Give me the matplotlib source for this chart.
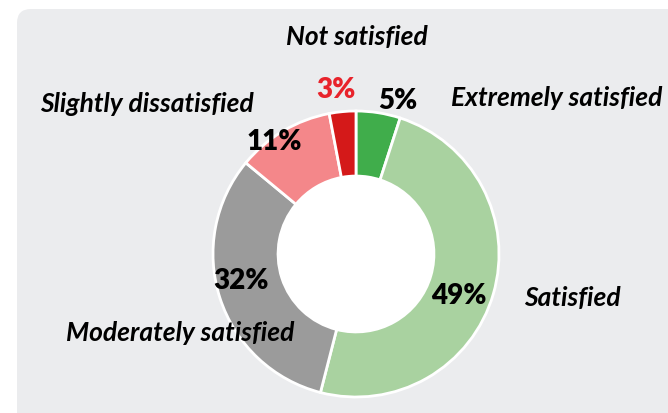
import matplotlib.pyplot as plt
from matplotlib.patches import FancyBboxPatch, Circle

# Survey satisfaction breakdown (clockwise from top)
categories = ["Extremely satisfied", "Satisfied", "Moderately satisfied",
              "Slightly dissatisfied", "Not satisfied"]
shares = [5, 49, 32, 11, 3]
colors = ["#40ad4b", "#a9d2a0", "#9b9b9b", "#f4878a", "#d41919"]
pct_colors = ["black", "black", "black", "black", "#e8232b"]

# label positions in pixel space (x, y from top)
pct_pos = [(398, 101), (459, 296), (241, 281), (274, 142), (336, 90)]
name_pos = [(557, 98), (572, 298), (180, 333), (147, 104), (357, 37)]

W, H = 668, 413
fig = plt.figure(figsize=(W / 100, H / 100), dpi=100)
ax = fig.add_axes([0, 0, 1, 1])

# grey card behind the chart
card = FancyBboxPatch((17, -30), 700, H - 9 + 30,
                      boxstyle="round,pad=0,rounding_size=14",
                      facecolor="#ebecee", edgecolor="none", zorder=0)
ax.add_patch(card)

cx, cy, r = 356, H - 254, 143
ax.pie(shares, colors=colors, startangle=90, counterclock=False,
       center=(cx, cy), radius=r, frame=True,
       wedgeprops=dict(width=r * 0.455, edgecolor="white", linewidth=2))
ax.add_patch(Circle((cx, cy), r * 0.545, facecolor="white",
                    edgecolor="none", zorder=3))
ax.set_xlim(0, W)
ax.set_ylim(0, H)
ax.set_aspect("equal")
ax.axis("off")

for (px, py), s, c in zip(pct_pos, shares, pct_colors):
    ax.text(px, H - py, f"{s}%", ha="center", va="center", fontsize=20,
            fontfamily="Lato", fontweight="heavy", color=c, zorder=5)

for (px, py), name in zip(name_pos, categories):
    ax.text(px, H - py, name, ha="center", va="center", fontsize=19,
            fontfamily="Lato", fontweight="bold", fontstyle="italic",
            color="black", zorder=5)

fig.savefig("out.png", dpi=100, facecolor="white")
